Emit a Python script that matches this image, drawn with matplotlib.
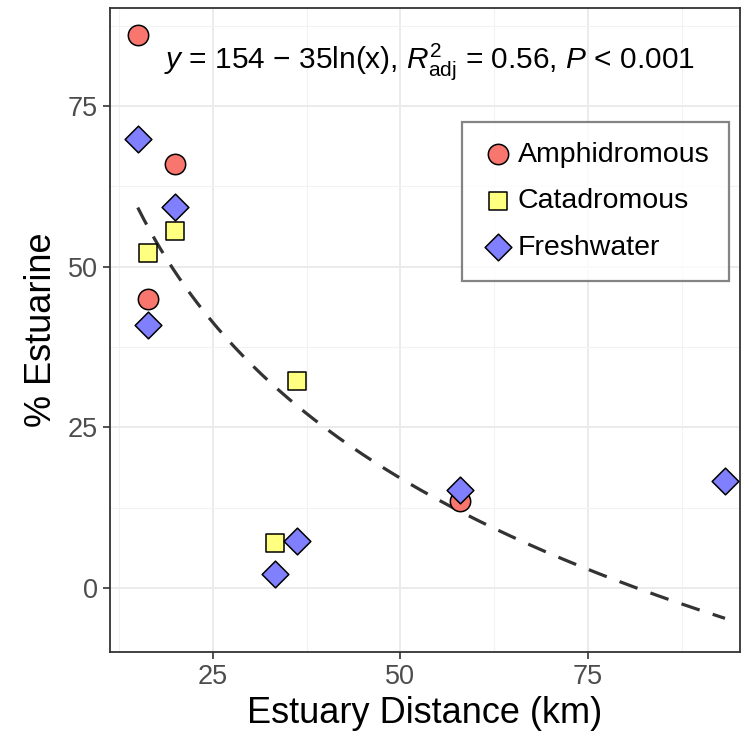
import numpy as np
import matplotlib
matplotlib.use("Agg")
import matplotlib.pyplot as plt

plt.rcParams['font.family'] = ['Liberation Sans', 'DejaVu Sans']
plt.rcParams['mathtext.fontset'] = 'custom'
plt.rcParams['mathtext.rm'] = 'Liberation Sans'
plt.rcParams['mathtext.it'] = 'Liberation Sans:italic'

# data
amphi_x = [15.0, 19.9, 16.3, 57.9]
amphi_y = [86.1, 66.0, 45.0, 13.5]
cata_x = [16.3, 19.9, 36.2, 33.3]
cata_y = [52.2, 55.6, 32.2, 7.0]
fresh_x = [15.0, 19.9, 16.3, 36.2, 33.3, 57.9, 93.3]
fresh_y = [69.9, 59.3, 41.0, 7.3, 2.2, 15.3, 16.7]

fit_a, fit_b = 154, -35
x_fit = np.linspace(15.0, 93.3, 200)
y_fit = fit_a + fit_b * np.log(x_fit)

fig = plt.figure(figsize=(7.43, 7.49), dpi=100)
ax = fig.add_axes([110 / 743, 97 / 749, 630 / 743, 644 / 749])

ax.plot(x_fit, y_fit, color='#333333', lw=2.3, ls=(0, (6, 4.3)), zorder=2)

ax.scatter(amphi_x, amphi_y, s=215, marker='o', facecolor='#F8766D', edgecolor='black',
           linewidth=1.1, label='Amphidromous', zorder=3)
ax.scatter(cata_x, cata_y, s=180, marker='s', facecolor='#FFFF80', edgecolor='black',
           linewidth=1.1, label='Catadromous', zorder=3)
ax.scatter(fresh_x, fresh_y, s=185, marker='D', facecolor='#8080FF', edgecolor='black',
           linewidth=1.1, label='Freshwater', zorder=3)

ax.set_xlim(11.3, 95.3)
ax.set_ylim(-10.0, 90.3)
ax.set_xticks([25, 50, 75])
ax.set_yticks([0, 25, 50, 75])
ax.set_xticks([12.5, 37.5, 62.5, 87.5], minor=True)
ax.set_yticks([12.5, 37.5, 62.5, 87.5], minor=True)
ax.grid(True, which='major', color='#EBEBEB', lw=1.4)
ax.grid(True, which='minor', color='#F2F2F2', lw=0.8)
ax.set_axisbelow(True)
ax.tick_params(which='major', labelsize=19.5, labelcolor='#4D4D4D', color='#333333',
               length=5, width=1.2, pad=4)
ax.tick_params(which='minor', length=0)
for s in ax.spines.values():
    s.set_color('#333333')
    s.set_linewidth(1.3)

ax.set_xlabel('Estuary Distance (km)', fontsize=26, labelpad=4)
ax.set_ylabel('% Estuarine', fontsize=26, labelpad=6)

ax.text(53.9, 81.9, r'$y$ = 154 $-$ 35ln(x), $R^2_{\mathrm{adj}}$ = 0.56, $P$ < 0.001',
        fontsize=21.5, ha='center', va='center', zorder=4)

leg = ax.legend(loc='upper left', bbox_to_anchor=(0.559, 0.823), borderaxespad=0,
                fontsize=20.5, frameon=True, fancybox=False, edgecolor='#666666',
                handletextpad=0.15, handlelength=1.1, labelspacing=0.72, borderpad=0.7,
                scatterpoints=1)
leg.get_frame().set_linewidth(1.6)

fig.savefig('out.png', dpi=100)
